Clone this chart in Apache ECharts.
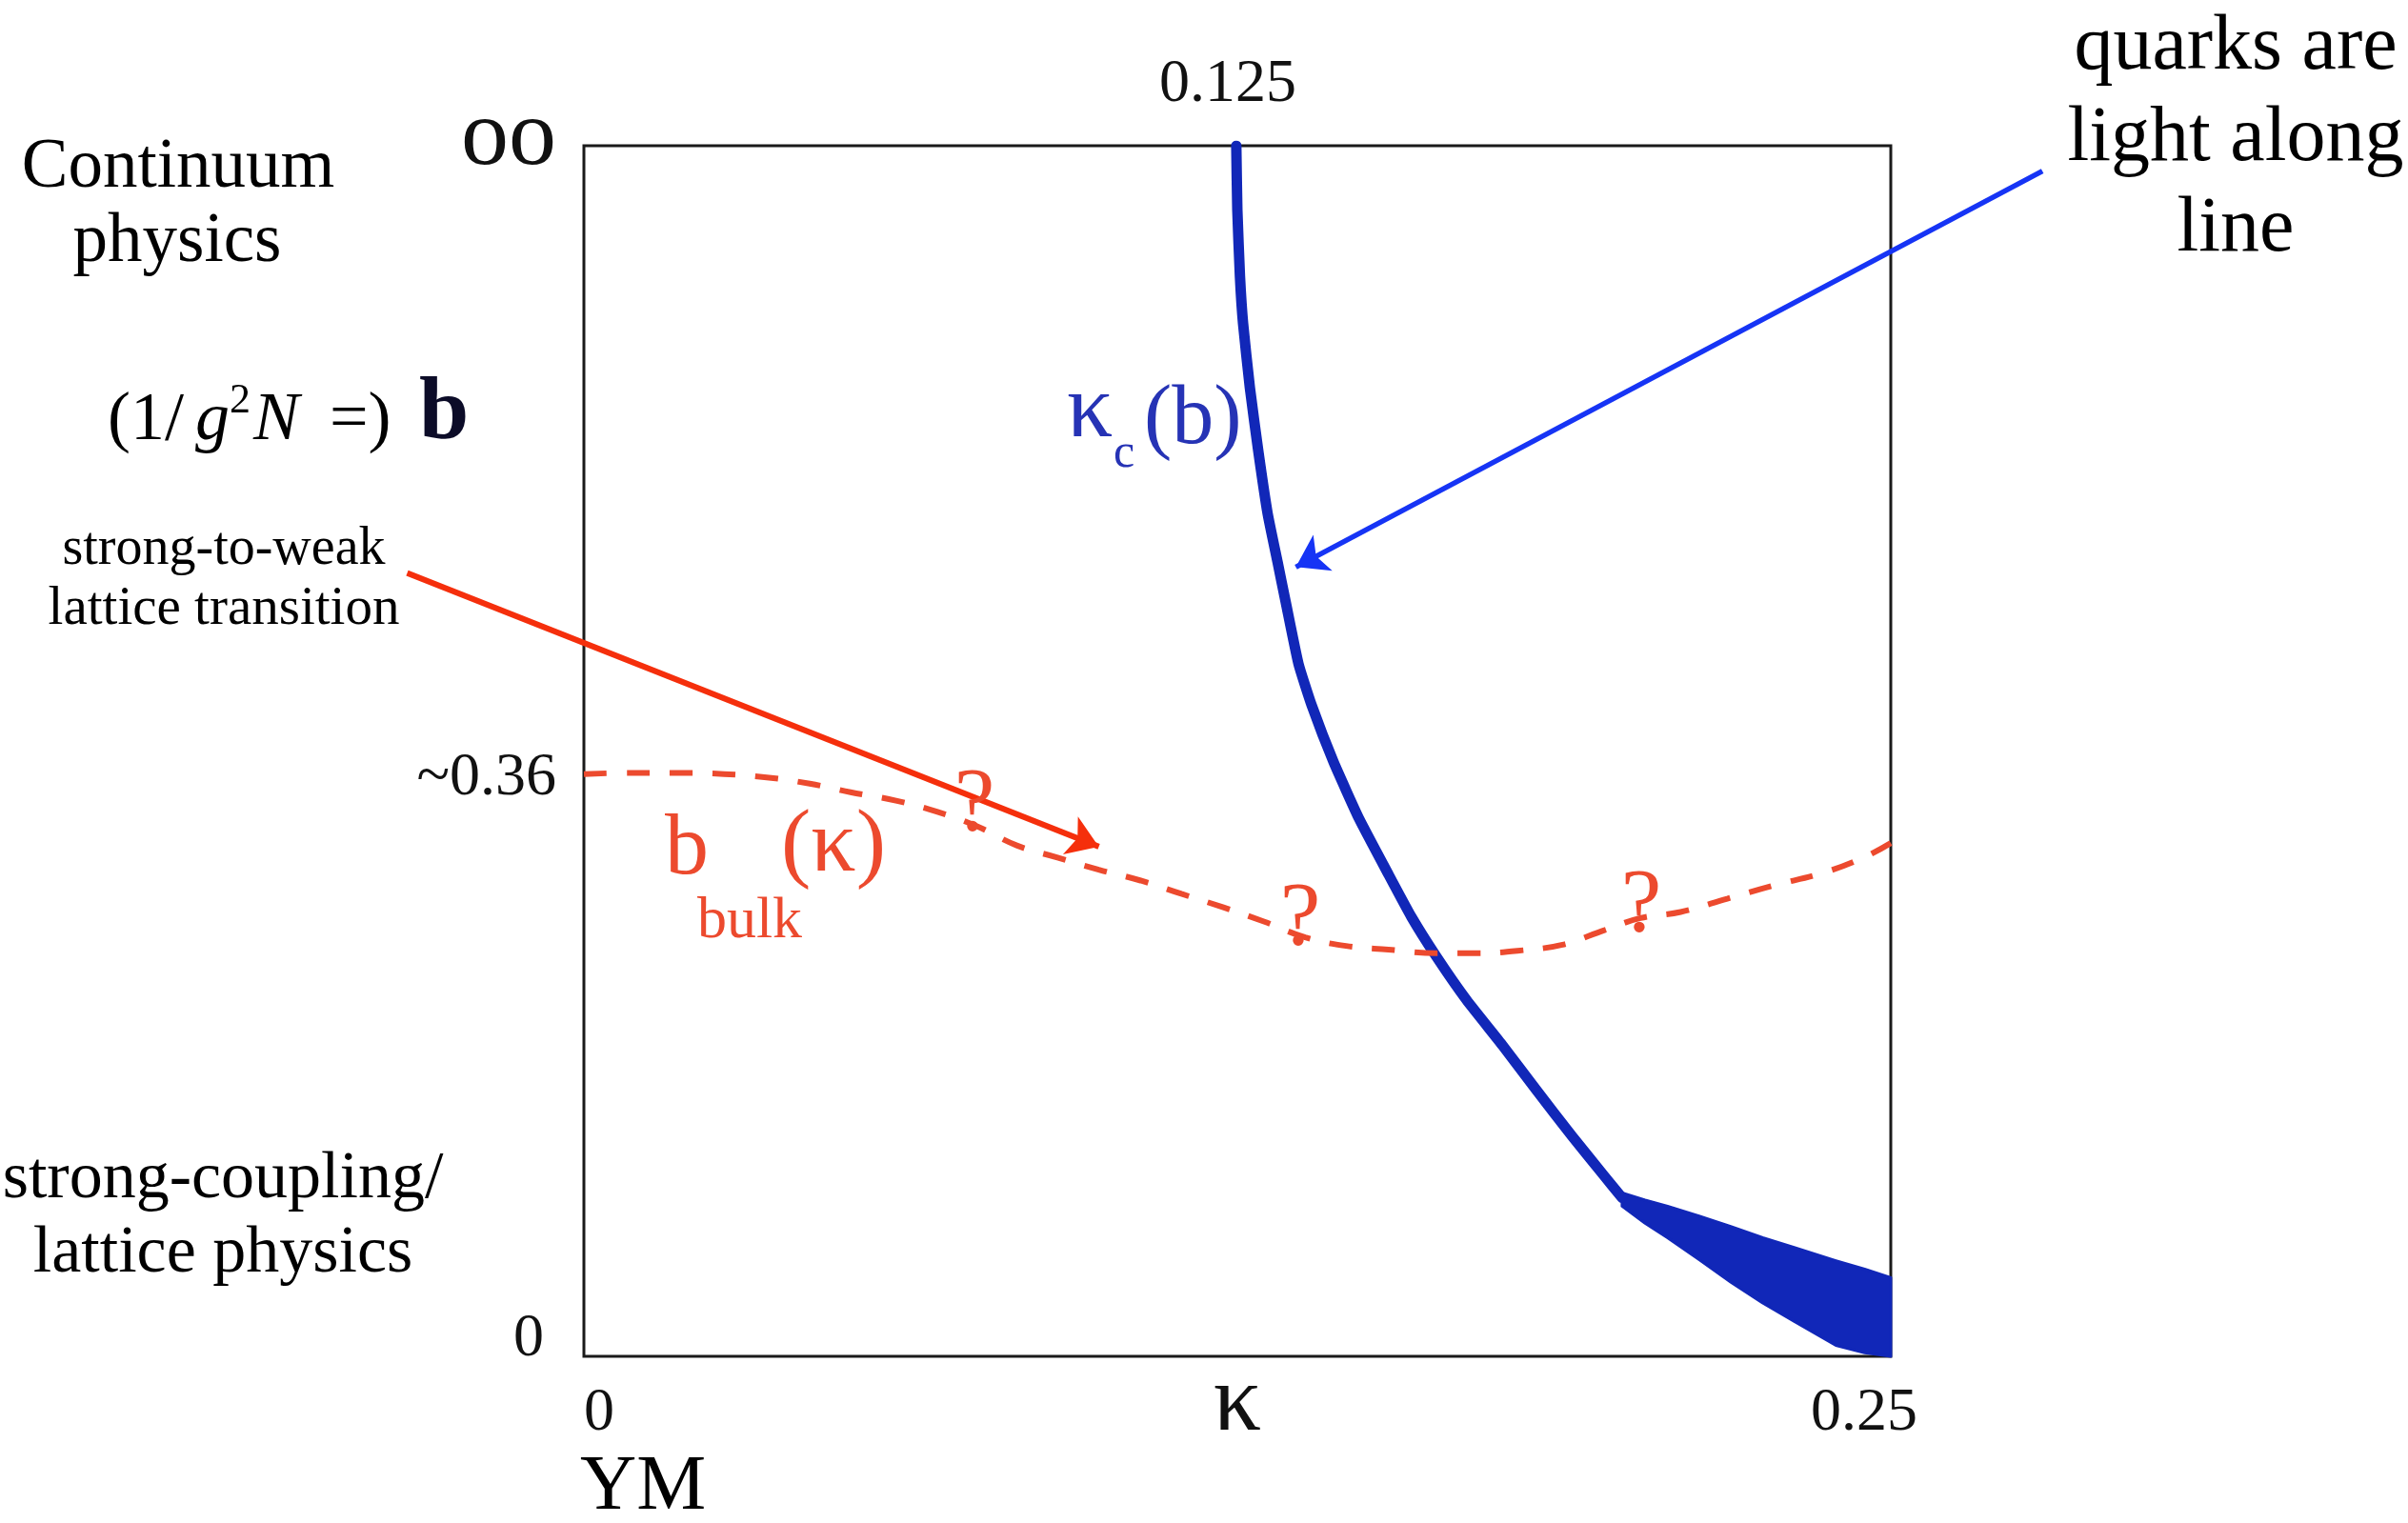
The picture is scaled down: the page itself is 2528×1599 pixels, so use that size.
<!DOCTYPE html>
<html>
<head>
<meta charset="utf-8">
<script src="https://cdn.jsdelivr.net/npm/echarts@6/dist/echarts.min.js"></script>
<style>
html,body{margin:0;padding:0;background:#fff;}
#chart{width:2528px;height:1599px;}
</style>
</head>
<body>
<div id="chart"></div>
<script>
// ---- data (kappa on x, normalised b-axis position on y: 0 -> b=0, 1 -> b=infinity) ----
const kappaCurveX = [0.1248, 0.1250, 0.1255, 0.1261, 0.1274, 0.1290, 0.1308, 0.1327, 0.1343, 0.1367, 0.1392, 0.1434, 0.1483, 0.1538, 0.1583, 0.1631, 0.1689, 0.1757, 0.1822, 0.1890, 0.1950, 0.1986];
const kappaCurveB = [1.000, 0.947, 0.892, 0.853, 0.800, 0.748, 0.696, 0.656, 0.622, 0.572, 0.538, 0.491, 0.444, 0.399, 0.363, 0.330, 0.294, 0.257, 0.220, 0.182, 0.150, 0.131];

const bandKappa = [0.1986, 0.2030, 0.2073, 0.2133, 0.2195, 0.2255, 0.2315, 0.2395, 0.2450, 0.2500];
const bandUpper = [0.135, 0.129, 0.124, 0.116, 0.107, 0.098, 0.090, 0.079, 0.072, 0.065];
const bandLower = [0.124, 0.110, 0.098, 0.080, 0.061, 0.044, 0.029, 0.009, 0.003, 0.000];

const bulkKappa = [0.0000, 0.0098, 0.0190, 0.0268, 0.0354, 0.0432, 0.0510, 0.0597, 0.0675, 0.0751, 0.0828, 0.0906, 0.0985, 0.1065, 0.1143, 0.1222, 0.1302, 0.1380, 0.1458, 0.1539, 0.1630, 0.1708, 0.1786, 0.1872, 0.1952, 0.2021, 0.2098, 0.2187, 0.2276, 0.2368, 0.2448, 0.2500];
const bulkB     = [0.481, 0.482, 0.482, 0.481, 0.478, 0.473, 0.466, 0.459, 0.450, 0.438, 0.422, 0.412, 0.402, 0.393, 0.382, 0.371, 0.359, 0.346, 0.339, 0.336, 0.333, 0.333, 0.335, 0.340, 0.352, 0.362, 0.367, 0.378, 0.389, 0.399, 0.412, 0.424];

const yTickPos = [0, 0.481, 1];
const yTickLabels = ['0', '~0.36', 'oo'];
const xTickPos = [0, 0.125, 0.25];
const xTickLabels = ['0', 'κ', '0.25'];
const topTickPos = [0.125];
const topTickLabels = ['0.125'];

// annotation arrows [start, end] in axis units
const blueArrow = [[0.2790, 0.979], [0.1362, 0.652]];
const redArrow  = [[-0.0338, 0.647], [0.0985, 0.421]];

const FONT = 'Liberation Serif';
const BLUE = '#1127b8';
const RED = '#ec4a2e';

const chart = echarts.init(document.getElementById('chart'), null, {renderer: 'canvas'});

function t(x, y, text, size, opts) {
  opts = opts || {};
  return {
    type: 'text', x: x, y: y, z: 50,
    style: {
      text: text, fontFamily: FONT, fontSize: size,
      fontStyle: opts.italic ? 'italic' : 'normal',
      fontWeight: opts.bold ? 'bold' : 'normal',
      fill: opts.color || '#000',
      align: opts.align || 'center', verticalAlign: 'middle'
    }
  };
}

const option = {
  backgroundColor: '#ffffff',
  animation: false,
  grid: {left: 613, right: 543, top: 153, bottom: 175, show: true, borderColor: '#1a1a1a', borderWidth: 3, backgroundColor: 'transparent'},
  xAxis: [{
    type: 'value', min: 0, max: 0.25, position: 'bottom',
    axisLine: {show: false}, axisTick: {show: false}, splitLine: {show: false},
    axisLabel: {
      customValues: xTickPos, margin: 1, fontFamily: FONT, fontSize: 64, color: '#111',
      formatter: function (v) {
        const i = xTickPos.findIndex(p => Math.abs(p - v) < 1e-9);
        return '{s' + i + '|' + xTickLabels[i] + '}';
      },
      rich: {
        s0: {fontFamily: FONT, fontSize: 64, color: '#111', padding: [27, 0, 0, 32]},
        s1: {fontFamily: FONT, fontSize: 100, color: '#111', padding: [0, 0, 0, 0]},
        s2: {fontFamily: FONT, fontSize: 64, color: '#111', padding: [27, 56, 0, 0]}
      }
    }
  }, {
    type: 'value', min: 0, max: 0.25, position: 'top',
    axisLine: {show: false}, axisTick: {show: false}, splitLine: {show: false},
    axisLabel: {
      customValues: topTickPos, margin: 32, fontFamily: FONT, fontSize: 64, color: '#111',
      formatter: function (v) {
        const i = topTickPos.findIndex(p => Math.abs(p - v) < 1e-9);
        return '{a|' + topTickLabels[i] + '}';
      },
      rich: {a: {fontFamily: FONT, fontSize: 64, color: '#111', padding: [0, 20, 0, 0]}}
    }
  }],
  yAxis: {
    type: 'value', min: 0, max: 1,
    axisLine: {show: false}, axisTick: {show: false}, splitLine: {show: false},
    axisLabel: {
      customValues: yTickPos, margin: 29, fontFamily: FONT, fontSize: 64, color: '#111',
      formatter: function (v) {
        const i = yTickPos.findIndex(p => Math.abs(p - v) < 1e-9);
        return '{y' + i + '|' + yTickLabels[i] + '}';
      },
      rich: {
        y0: {fontFamily: FONT, fontSize: 64, color: '#111', padding: [0, 13, 36, 0]},
        y1: {fontFamily: FONT, fontSize: 64, color: '#111', padding: [10, 0, 0, 0]},
        y2: {fontFamily: FONT, fontSize: 100, color: '#111', padding: [0, 0, 14, 0]}
      }
    }
  },
  series: [
    {
      name: 'kappa_c(b)', type: 'line', smooth: 0.15, showSymbol: false, z: 3,
      data: kappaCurveX.map((x, i) => [x, kappaCurveB[i]]),
      lineStyle: {color: BLUE, width: 11, join: 'round', cap: 'round'}
    },
    {
      name: 'band', type: 'custom', z: 3,
      data: [[bandKappa[0], bandUpper[0]]],
      renderItem: function (params, api) {
        const pts = [];
        for (let i = 0; i < bandKappa.length; i++) pts.push(api.coord([bandKappa[i], bandUpper[i]]));
        for (let i = bandKappa.length - 1; i >= 0; i--) pts.push(api.coord([bandKappa[i], bandLower[i]]));
        return {type: 'polygon', shape: {points: pts}, style: {fill: BLUE, stroke: BLUE, lineWidth: 3, lineJoin: 'round'}};
      }
    },
    {
      name: 'b_bulk(kappa)', type: 'line', smooth: 0.4, showSymbol: false, z: 4,
      data: bulkKappa.map((x, i) => [x, bulkB[i]]),
      lineStyle: {color: RED, width: 6, type: [24, 21]}
    },
    {
      name: 'arrows', type: 'lines', coordinateSystem: 'cartesian2d', clip: false, z: 6,
      symbol: ['none', 'arrow'], symbolSize: 32,
      data: [
        {coords: blueArrow, lineStyle: {color: '#1634f5', width: 5.5, opacity: 1}},
        {coords: redArrow, lineStyle: {color: '#f52f0c', width: 6, opacity: 1}}
      ],
      lineStyle: {width: 5, opacity: 1, curveness: 0}
    }
  ],
  graphic: [
    t(187, 177, 'Continuum', 73),
    t(186, 255, 'physics', 73),
    t(113, 442, '(1/', 72, {align: 'left'}),
    t(205, 442, 'g', 72, {align: 'left', italic: true}),
    t(241, 421, '2', 44, {align: 'left'}),
    t(266, 442, 'N', 72, {align: 'left', italic: true}),
    t(346, 442, '=)', 72, {align: 'left'}),
    t(440, 436, 'b', 94, {align: 'left', color: '#0c0c28', bold: true}),
    t(235, 577, 'strong-to-weak', 56),
    t(235, 640, 'lattice transition', 57),
    t(234, 1239, 'strong-coupling/', 70),
    t(234, 1317, 'lattice physics', 70),
    t(609, 1562, 'YM', 82, {align: 'left'}),
    t(2347, 50, 'quarks are', 82),
    t(2347, 146, 'light along', 82),
    t(2347, 241, 'line', 82),
    t(1120, 433, 'κ', 96, {align: 'left', color: '#2633b5'}),
    t(1169, 477, 'c', 50, {align: 'left', color: '#2633b5'}),
    t(1201, 442, '(b)', 88, {align: 'left', color: '#2633b5'}),
    t(721, 893, 'b', 92, {color: RED}),
    t(875, 889, '(κ)', 94, {color: RED}),
    t(787, 968, 'bulk', 62, {color: RED}),
    t(1023, 847, '?', 96, {color: RED}),
    t(1365, 967, '?', 96, {color: RED}),
    t(1723, 953, '?', 96, {color: RED})
  ]
};
chart.setOption(option);
</script>
</body>
</html>
